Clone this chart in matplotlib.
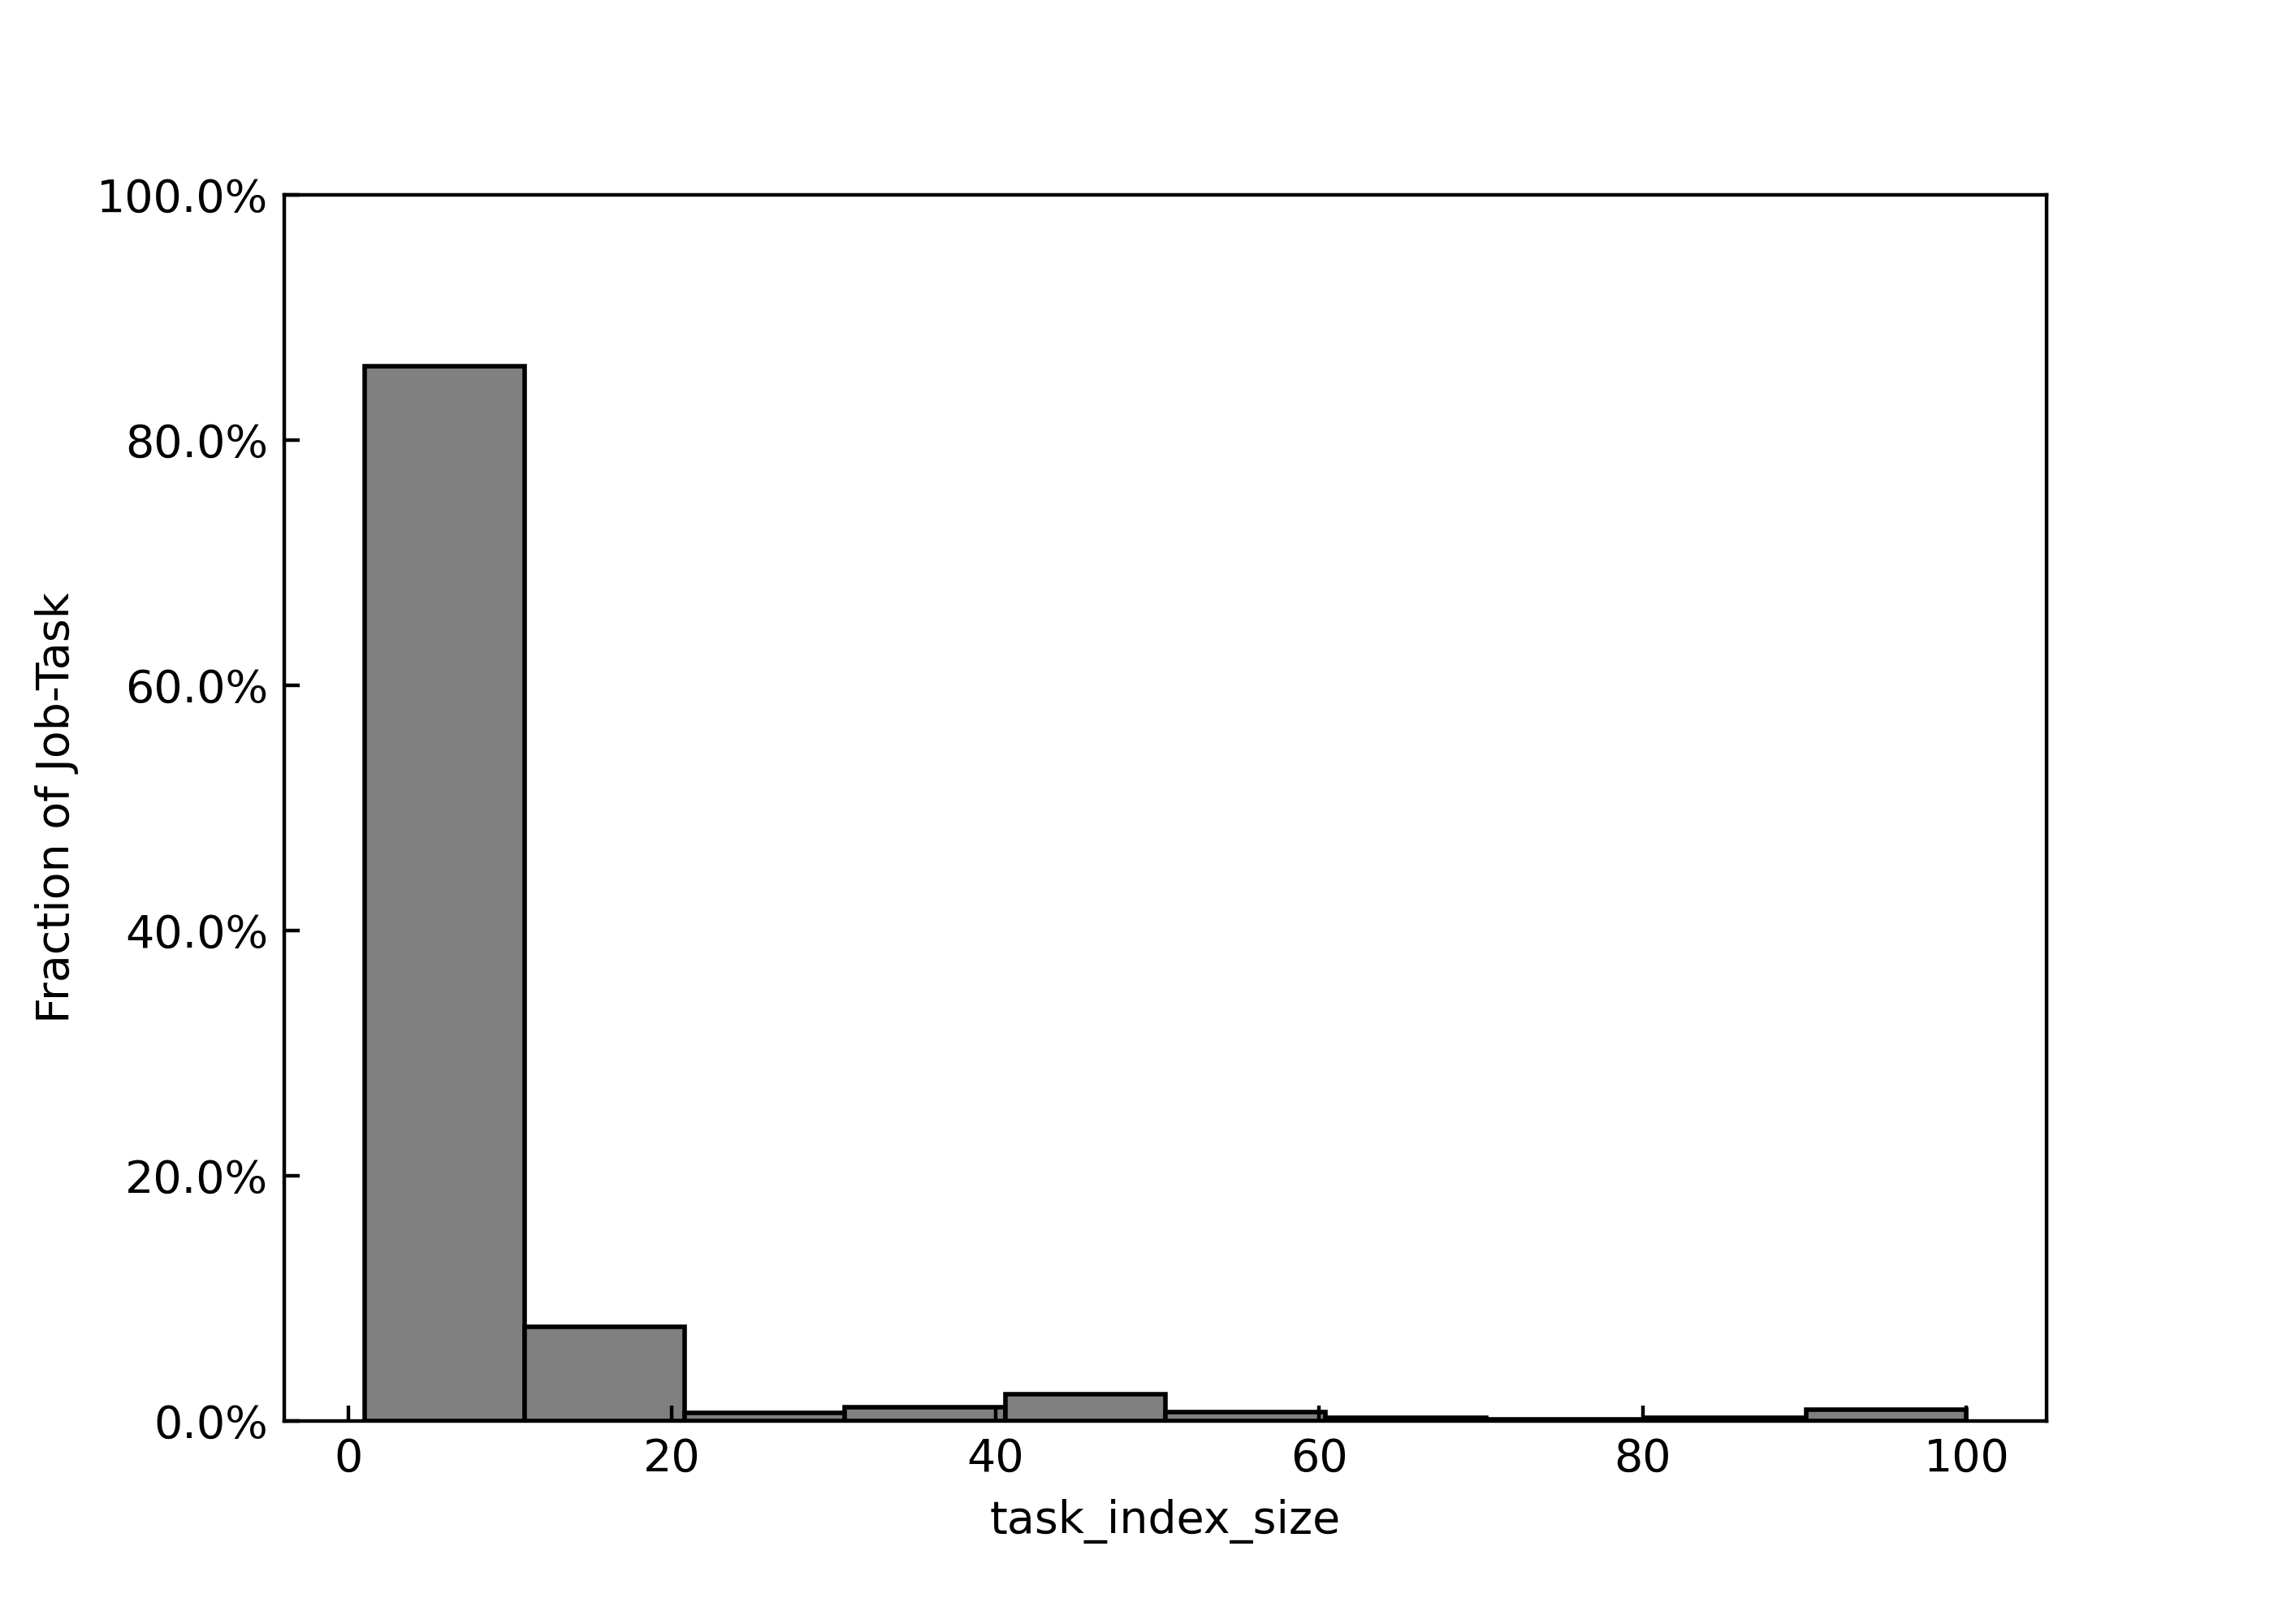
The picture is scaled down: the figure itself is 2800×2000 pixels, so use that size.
import matplotlib
matplotlib.use('Agg')
import matplotlib.pyplot as plt
from matplotlib.ticker import PercentFormatter
import numpy as np

# histogram of task_index_size, 10 bins between 1 and 100
bin_edges = np.linspace(1, 100, 11)
fractions = [0.86, 0.077, 0.0065, 0.011, 0.022, 0.0075, 0.0027, 0.0015, 0.0025, 0.009]

fig = plt.figure(figsize=(7, 5), dpi=400)
ax = fig.add_subplot(111)
fig.subplots_adjust(left=0.125, right=0.9, top=0.88, bottom=0.125)

ax.bar(bin_edges[:-1], fractions, width=np.diff(bin_edges), align='edge',
       color='gray', edgecolor='black', linewidth=1)

ax.set_ylim(0, 1)
ax.set_yticks(np.arange(0, 1.01, 0.2))
ax.yaxis.set_major_formatter(PercentFormatter(1, decimals=1))
ax.tick_params(direction='in')

ax.set_xlabel('task_index_size')
ax.set_ylabel('Fraction of Job-Task')

plt.savefig('out.png')
